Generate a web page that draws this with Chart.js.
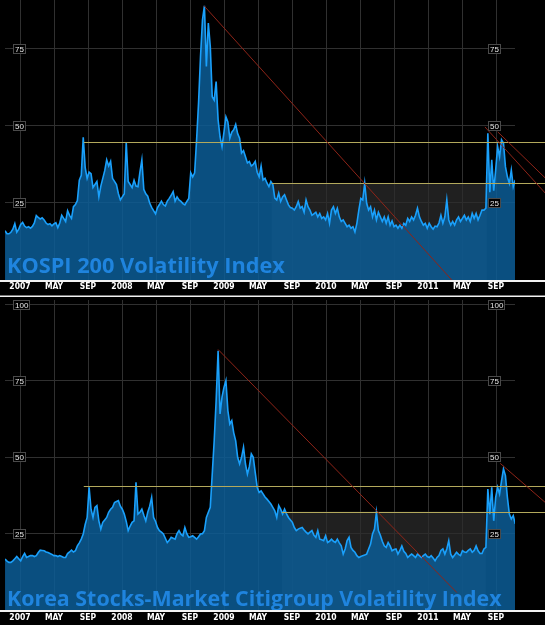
<!DOCTYPE html>
<html>
<head>
<meta charset="utf-8">
<script src="https://cdn.jsdelivr.net/npm/chart.js@4.4.1/dist/chart.umd.min.js"></script>
<style>
  html, body { margin: 0; padding: 0; background: #000; }
  canvas { display: block; }
</style>
</head>
<body>
<canvas id="kospiChart" width="545" height="297"></canvas>
<canvas id="citiChart" width="545" height="328"></canvas>
<script>
"use strict";

// x axis is in months counted from Jan 2007
const monthTicks = [0, 4, 8, 12, 16, 20, 24, 28, 32, 36, 40, 44, 48, 52, 56];
const tickLabels = [`2007`, `MAY`, `SEP`, `2008`, `MAY`, `SEP`, `2009`, `MAY`, `SEP`, `2010`, `MAY`, `SEP`, `2011`, `MAY`, `SEP`];

// weekly closes, first week early Nov 2006
const firstWeek = -1.76;
const weekStep = 7 / 30.44;

const kospiValues = [
  16, 15, 15, 15.5, 16.5, 18.3, 15.5, 16.5, 18, 18.7,
  17.5, 17, 17.3, 16.8, 17.4, 18.5, 20.9, 20.3, 19.8, 20.2,
  19.5, 18.5, 18, 18.3, 17.6, 18.2, 18.6, 17, 18.5, 21,
  20, 19, 22.5, 21, 20, 23.8, 24.5, 25.8, 32.4, 34,
  46.3, 36.5, 33, 35, 34.5, 30, 31, 32, 27, 30.5,
  33, 35.5, 39, 37, 38.5, 33, 32, 31, 28, 26,
  27, 28, 44.7, 32, 31, 30, 32.4, 30.5, 30.3, 35,
  39, 29.4, 28, 27.2, 25, 23.6, 22.5, 21.5, 23.5, 24.5,
  25.6, 24.5, 24, 25.6, 26.5, 27.5, 28.7, 25.6, 27, 26,
  25.5, 24.8, 24.4, 25.5, 26.5, 34.8, 33.5, 34.8, 45.5, 57.5,
  72.5, 84.4, 89, 69.3, 83.4, 75.8, 59.5, 58.4, 64.4, 52,
  46.5, 43.3, 48, 53, 51.3, 46, 48, 48.8, 50.5, 47.5,
  46, 41.2, 42, 40, 38, 38.5, 37, 37.5, 38.5, 35,
  33.5, 37, 32.5, 33, 31.5, 30.3, 32, 31, 26.6, 26,
  28.2, 25.5, 27, 27.7, 26, 24.4, 23.5, 23.3, 22.7, 23.8,
  25.5, 23.3, 23.8, 22, 26, 23.8, 22.7, 21, 21.5, 22,
  20.5, 21.6, 20, 20.5, 19.5, 21.6, 18.4, 22.7, 23.8, 21.6,
  23.3, 20.5, 19, 19.5, 18.4, 17.3, 17.8, 16.8, 17.3, 15.6,
  18.4, 22.7, 26.5, 26, 31.4, 24.9, 22.7, 23.8, 20.5, 22.7,
  19.5, 22, 20.5, 19, 20.5, 18.4, 20.5, 17.8, 19.2, 17.3,
  17.8, 16.8, 17.8, 16.8, 18.4, 17.8, 20, 19, 20.5, 19.5,
  21, 23.3, 20.5, 19, 17.8, 18.4, 16.8, 18.4, 17.3, 16.5,
  17.5, 17.3, 18.5, 21, 18.4, 20.5, 26, 19.5, 17.8, 19,
  17.8, 19.5, 20.5, 19, 20, 21, 19.5, 20.5, 19, 21.6,
  20, 21.6, 19.5, 21, 22.7, 22.7, 23.3, 47.6, 28.5, 39,
  29, 35.7, 43.3, 40, 45.5, 44.4, 36.8, 33.5, 31.4, 35.7,
  30.3, 32.5
];

const citiValues = [
  16.7, 16, 15.6, 15.6, 16.1, 16.8, 17.5, 16.8, 16.1, 17.5,
  18.5, 17.2, 17.5, 17.8, 17.8, 17.5, 17.8, 18.8, 19.6, 19.5,
  19.4, 19, 18.8, 18.5, 18.2, 17.8, 17.8, 17.5, 17.8, 17.5,
  17.2, 17.2, 18.5, 19, 19.6, 19, 19.4, 21, 22, 23.2,
  24.9, 28, 30.3, 40.2, 33, 30.3, 33.6, 34.2, 29.2, 26.5,
  28.7, 29.5, 30.3, 32, 33, 33.6, 35.2, 35.5, 35.8, 34,
  33, 31.4, 29, 26, 27.5, 28.7, 29.2, 41.8, 31.4, 32,
  33, 31, 29.2, 32, 34, 36.9, 30.3, 29, 27, 26,
  25.5, 24.9, 23.5, 22.1, 22.8, 23.8, 23.5, 23.2, 25, 26,
  24.8, 24.3, 27, 25, 23.8, 24, 24.3, 23.8, 23.2, 24,
  24.9, 25, 26, 30.3, 32, 33.6, 44.5, 55.4, 68.6, 84.9,
  64.2, 69.7, 72.9, 75.1, 65.3, 60.9, 62, 58, 55.4, 50,
  47.8, 50, 53.3, 47.8, 44.5, 47, 51.1, 50, 45, 40.2,
  38.5, 39, 38, 37, 36.3, 35.5, 34.7, 33.6, 32.5, 30.3,
  34.2, 33, 31.4, 33, 31.5, 30.3, 29.5, 28.7, 27, 26,
  26.5, 26.8, 27, 26.2, 25.5, 24.9, 25.5, 26, 24.5, 23.8,
  26, 23.2, 23, 22.7, 24.3, 22.1, 22.5, 23.2, 22.5, 22.1,
  23.2, 22, 21, 18.3, 20, 22.7, 23.8, 20.5, 19.5, 18.9,
  17.8, 17.2, 17.5, 17.8, 18, 18.3, 20, 21.6, 24.9, 26.5,
  32, 26, 24.5, 22.5, 21, 20.5, 22.1, 21, 19.4, 19.8,
  20, 18.3, 19.5, 21, 19.2, 18.5, 17.2, 17.8, 18.3, 17.8,
  17.2, 18.3, 17.8, 17.2, 17.8, 18.3, 17.5, 17.2, 17.8, 17,
  16.1, 17.2, 17.8, 19.5, 20, 18.3, 20, 22.7, 18.3, 17.2,
  18, 18.9, 18.2, 17.8, 19.4, 19, 18.9, 19.5, 20, 18.9,
  19.5, 21, 19.4, 18.5, 18.5, 20, 20.5, 39.6, 31.4, 40.2,
  29.2, 36.9, 40.2, 38, 42.3, 46.2, 44, 36.9, 31.4, 29.8,
  30.9, 28.2
];

const kospiTicks = [25, 50, 75];
const citiTicks = [25, 50, 75, 100];

// horizontal levels: [start month, level]
const kospiLevels = [[7.5, 44.8], [29.6, 31.5]];
const citiLevels = [[7.5, 40.7], [30.8, 32.2]];
// shaded range: [from month, to month, top level]
const kospiRange = [29.6, 54.9, 31.5];
const citiRange = [30.8, 54.8, 32.2];
// trend lines: [month, value, month, value]
const kospiTrends = [[21.65, 89, 50.8, 0], [54.7, 49.7, 61.8, 28.2], [56.2, 48.1, 61.8, 33.1]];
const citiTrends = [[23.3, 85.3, 51.4, 5.7], [56.5, 48, 61.8, 35.2]];

const toPoints = (values) => values.map((v, i) => ({ x: firstWeek + i * weekStep, y: v }));

const decor = {
  id: `decor`,
  beforeDatasetsDraw(chart, args, opts) {
    const { ctx, chartArea, scales: { x, y } } = chart;
    const [from, to, top] = opts.range;
    const left = x.getPixelForValue(from);
    const yTop = y.getPixelForValue(top);
    ctx.save();
    ctx.fillStyle = `rgba(44, 44, 44, 0.72)`;
    ctx.fillRect(left, yTop, x.getPixelForValue(to) - left, chartArea.bottom - yTop);
    ctx.restore();
  },
  afterDatasetsDraw(chart, args, opts) {
    const { ctx, chartArea, width, height, scales: { x, y } } = chart;
    ctx.save();

    // title
    let size = 26;
    ctx.font = `bold ${size}px "Open Sans"`;
    size = size * opts.titleWidth / ctx.measureText(opts.title).width;
    ctx.font = `bold ${size}px "Open Sans"`;
    ctx.fillStyle = `#1f84de`;
    ctx.textBaseline = `alphabetic`;
    ctx.fillText(opts.title, 7, chartArea.bottom - opts.titleGap);

    // levels
    ctx.strokeStyle = `#b3a95c`;
    ctx.lineWidth = 1;
    opts.levels.forEach(([start, level]) => {
      const py = Math.round(y.getPixelForValue(level)) + 0.5;
      ctx.beginPath();
      ctx.moveTo(x.getPixelForValue(start), py);
      ctx.lineTo(width, py);
      ctx.stroke();
    });

    // trend lines
    ctx.strokeStyle = `#8e2418`;
    opts.trends.forEach(([m1, v1, m2, v2]) => {
      ctx.beginPath();
      ctx.moveTo(x.getPixelForValue(m1), y.getPixelForValue(v1));
      ctx.lineTo(x.getPixelForValue(m2), y.getPixelForValue(v2));
      ctx.stroke();
    });

    // boxed value labels, left and right
    ctx.font = `8px "Liberation Sans"`;
    ctx.textBaseline = `middle`;
    y.ticks.forEach((t) => {
      const py = Math.round(y.getPixelForValue(t.value));
      const label = String(t.value);
      const w = Math.round(ctx.measureText(label).width) + 4;
      [chartArea.left + 8, chartArea.right - 27].forEach((bx) => {
        ctx.fillStyle = `#000`;
        ctx.fillRect(bx, py - 5, w, 10);
        ctx.strokeStyle = `#4a4a4a`;
        ctx.strokeRect(bx + 0.5, py - 4.5, w - 1, 9);
        ctx.fillStyle = `#e6e6e6`;
        ctx.fillText(label, bx + 2, py + 0.5);
      });
    });

    // axis band rules
    ctx.fillStyle = `#f2f2f2`;
    ctx.fillRect(0, chartArea.bottom, width, 2);
    if (opts.closeBand) {
      ctx.fillRect(0, height - 1.5, width, 1.5);
    }
    ctx.restore();
  }
};

const buildChart = (canvasId, values, setup) => {
  const ctx = document.getElementById(canvasId).getContext(`2d`);
  return new Chart(ctx, {
    type: `line`,
    data: {
      datasets: [
        {
          data: toPoints(values),
          borderColor: `#1aa0fb`,
          borderWidth: 1.6,
          backgroundColor: `rgba(12, 93, 150, 0.85)`,
          fill: `origin`,
          pointRadius: 0,
          tension: 0
        }
      ]
    },
    plugins: [decor],
    options: {
      responsive: false,
      animation: false,
      devicePixelRatio: 1,
      layout: { padding: { left: 5, right: 30, top: setup.padTop, bottom: 0 } },
      plugins: {
        legend: { display: false },
        tooltip: { enabled: false },
        decor: setup.decor
      },
      scales: {
        x: {
          type: `linear`,
          min: -1.765,
          max: 58.235,
          afterBuildTicks: (scale) => {
            scale.ticks = monthTicks.map((v) => ({ value: v }));
          },
          afterFit: (scale) => {
            scale.height = setup.bandHeight;
          },
          ticks: {
            autoSkip: false,
            maxRotation: 0,
            padding: setup.labelPad,
            color: `#ffffff`,
            font: { family: `"Liberation Sans Narrow", "DejaVu Sans Condensed", "Liberation Sans"`, size: 8.5, weight: `bold` },
            callback: (value, i) => tickLabels[i]
          },
          grid: { color: `#303030`, lineWidth: 1, drawTicks: false },
          border: { display: false }
        },
        y: {
          min: 0,
          max: setup.yMax,
          afterBuildTicks: (scale) => {
            scale.ticks = setup.yTicks.map((v) => ({ value: v }));
          },
          afterFit: (scale) => {
            scale.width = 0;
          },
          ticks: { display: false },
          grid: { color: `#303030`, lineWidth: 1, drawTicks: false },
          border: { display: false }
        }
      }
    }
  });
};

const kospiChart = buildChart(`kospiChart`, kospiValues, {
  padTop: 0,
  bandHeight: 17,
  labelPad: 2,
  yMax: 90.9,
  yTicks: kospiTicks,
  decor: {
    title: `KOSPI 200 Volatility Index`,
    titleWidth: 278,
    titleGap: 7,
    levels: kospiLevels,
    range: kospiRange,
    trends: kospiTrends,
    closeBand: true
  }
});

const citiChart = buildChart(`citiChart`, citiValues, {
  padTop: 3,
  bandHeight: 15,
  labelPad: 3,
  yMax: 101.5,
  yTicks: citiTicks,
  decor: {
    title: `Korea Stocks-Market Citigroup Volatility Index`,
    titleWidth: 495,
    titleGap: 4,
    levels: citiLevels,
    range: citiRange,
    trends: citiTrends,
    closeBand: false
  }
});
</script>
</body>
</html>
